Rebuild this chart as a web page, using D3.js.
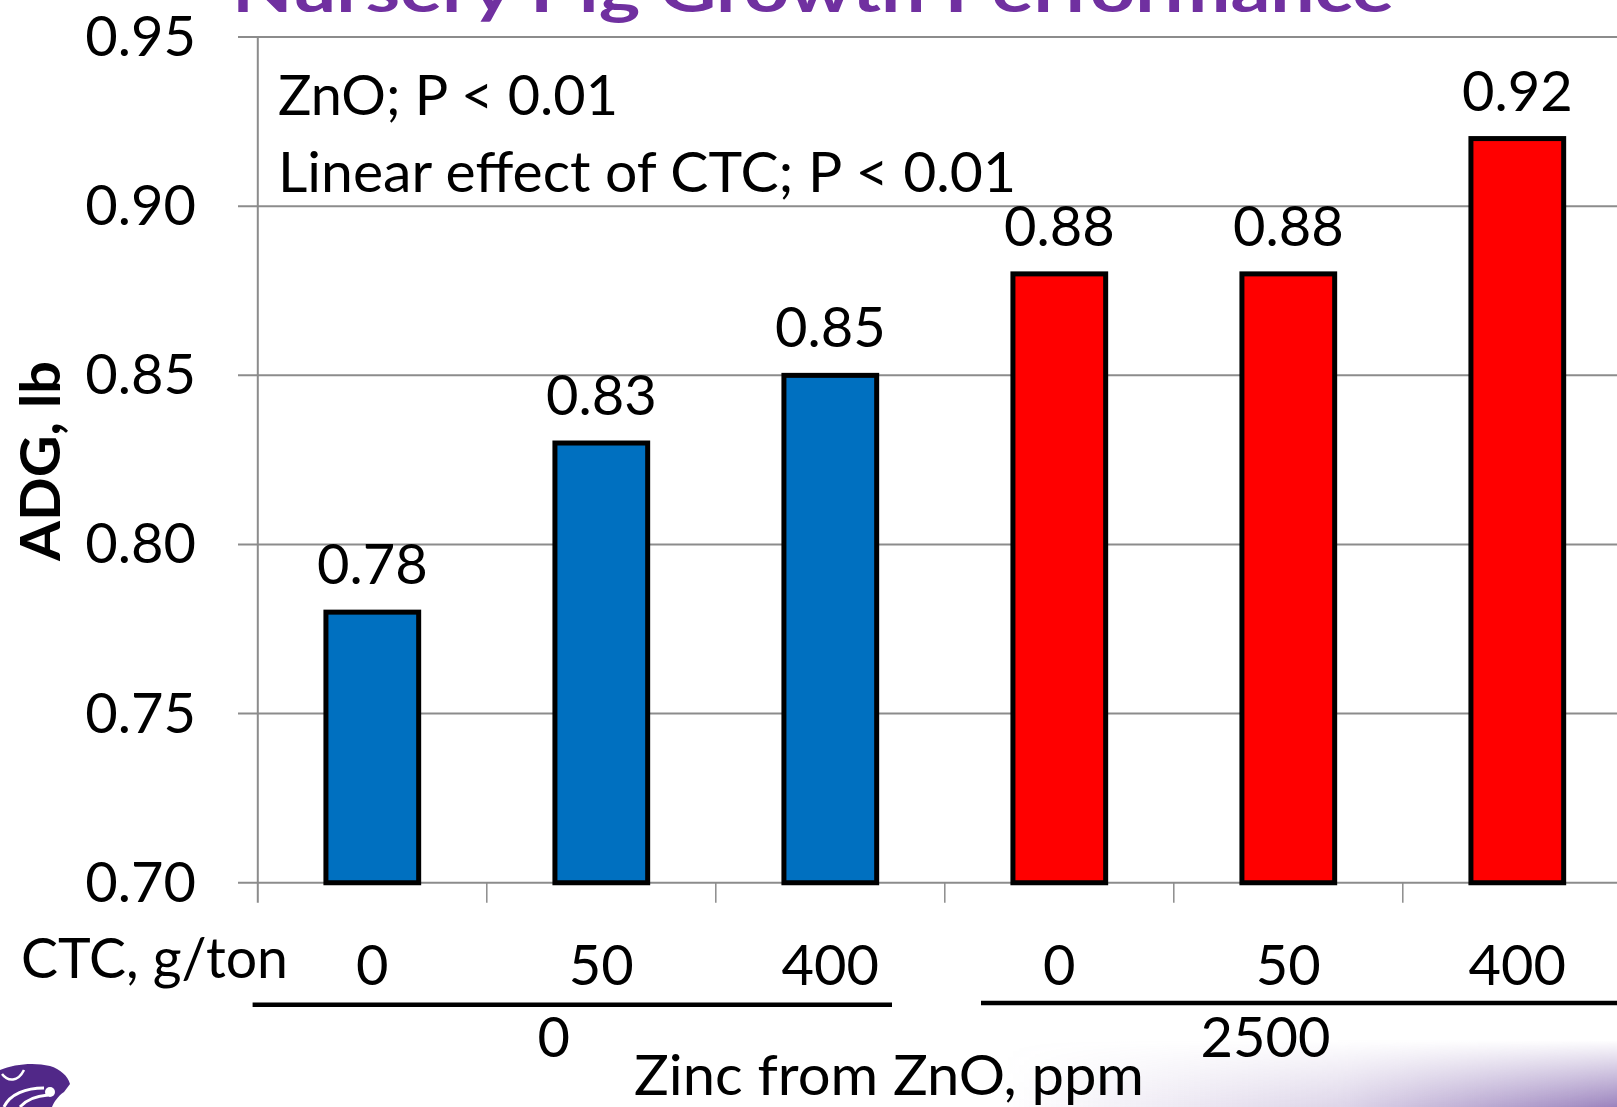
<!DOCTYPE html>
<html>
<head>
<meta charset="utf-8">
<script src="https://cdn.jsdelivr.net/npm/d3@7"></script>
<style>
  html, body { margin: 0; padding: 0; background: #fff; }
  svg { display: block; font-family: Lato, "Open Sans", sans-serif; }
</style>
</head>
<body>
<svg id="chart" width="1617" height="1107"></svg>
<script>
// Average daily gain of nursery pigs by CTC level within each ZnO level
const ctcLevels = ["0", "50", "400", "0", "50", "400"];
const zincOfBar = ["0", "0", "0", "2500", "2500", "2500"];
const adg = [0.78, 0.83, 0.85, 0.88, 0.88, 0.92];
const zincGroups = ["0", "2500"];
const yTicks = [0.70, 0.75, 0.80, 0.85, 0.90, 0.95];
const notes = ["ZnO; P < 0.01", "Linear effect of CTC; P < 0.01"];

const W = 1617, H = 1107;
const svg = d3.select("#chart");
const defs = svg.append("defs");

// --- slide decoration: bottom-right purple wash ---
const gH = defs.append("linearGradient").attr("id", "washH").attr("x1", 0).attr("x2", 1).attr("y1", 0).attr("y2", 0);
gH.append("stop").attr("offset", "0").attr("stop-color", "#7a5aa8").attr("stop-opacity", 0);
gH.append("stop").attr("offset", "0.55").attr("stop-color", "#7a5aa8").attr("stop-opacity", 0.25);
gH.append("stop").attr("offset", "1").attr("stop-color", "#7a5aa8").attr("stop-opacity", 0.75);
const gV = defs.append("linearGradient").attr("id", "washV").attr("x1", 0).attr("x2", 0).attr("y1", 0).attr("y2", 1);
gV.append("stop").attr("offset", "0").attr("stop-color", "#fff").attr("stop-opacity", 0);
gV.append("stop").attr("offset", "1").attr("stop-color", "#fff").attr("stop-opacity", 1);
defs.append("mask").attr("id", "washMask")
  .append("rect").attr("x", 1000).attr("y", 1040).attr("width", 617).attr("height", 67).attr("fill", "url(#washV)");
svg.append("rect").attr("x", 1000).attr("y", 1040).attr("width", 617).attr("height", 67)
  .attr("fill", "url(#washH)").attr("mask", "url(#washMask)");

// --- wildcat emblem, bottom-left ---
const logo = svg.append("g").attr("transform", "translate(0,1062)");
logo.append("path")
  .attr("d", "M0,8 C14,2 34,0 50,4 C60,7 68,14 70,22 L64,30 C58,34 54,40 52,45 L0,45 Z")
  .attr("fill", "#512888");
logo.append("path").attr("d", "M2,12 C8,20 18,20 24,8").attr("fill", "none").attr("stroke", "#fff").attr("stroke-width", 2.5);
logo.append("path").attr("d", "M4,45 C10,32 26,26 44,26").attr("fill", "none").attr("stroke", "#fff").attr("stroke-width", 3);
logo.append("path").attr("d", "M20,45 C26,38 36,34 48,33").attr("fill", "none").attr("stroke", "#fff").attr("stroke-width", 3);
logo.append("circle").attr("cx", 50).attr("cy", 30).attr("r", 5).attr("fill", "#fff");

// --- title (partly above the visible area) ---
svg.append("text")
  .attr("x", 232).attr("y", 12)
  .attr("fill", "#7030A0").attr("font-weight", "bold").attr("font-size", 62)
  .attr("textLength", 1162).attr("lengthAdjust", "spacingAndGlyphs")
  .text("Nursery Pig Growth Performance");

// --- scales ---
const plotLeft = 257.8, step = 229;
const x = d3.scaleBand()
  .domain(d3.range(adg.length))
  .range([plotLeft, plotLeft + step * adg.length])
  .paddingInner(0.595).paddingOuter(0.2975);
const y = d3.scaleLinear().domain([0.70, 0.95]).range([882.75, 37.1]);
const color = d3.scaleOrdinal().domain(zincGroups).range(["#0070C0", "#FF0000"]);

const gridColor = "#8c8c8c";

// horizontal gridlines (with the short left tick stubs)
svg.append("g").selectAll("line").data(yTicks).join("line")
  .attr("x1", 238).attr("x2", W)
  .attr("y1", d => y(d)).attr("y2", d => y(d))
  .attr("stroke", gridColor).attr("stroke-width", 2);

// y-axis line
svg.append("line")
  .attr("x1", plotLeft).attr("x2", plotLeft)
  .attr("y1", y(0.95)).attr("y2", y(0.70) + 20)
  .attr("stroke", gridColor).attr("stroke-width", 2);

// category boundary ticks on the x axis
const boundaries = d3.range(1, adg.length + 1).map(i => plotLeft + step * i);
svg.append("g").selectAll("line").data(boundaries).join("line")
  .attr("x1", d => d).attr("x2", d => d)
  .attr("y1", y(0.70)).attr("y2", y(0.70) + 20)
  .attr("stroke", gridColor).attr("stroke-width", 1.5);

// y tick labels
svg.append("g").selectAll("text").data(yTicks).join("text")
  .attr("x", 196).attr("y", d => y(d) + 19)
  .attr("text-anchor", "end").attr("font-size", 56).attr("fill", "#000")
  .text(d => d3.format(".2f")(d));

// y-axis title
svg.append("text")
  .attr("transform", `translate(60,${461}) rotate(-90)`)
  .attr("text-anchor", "middle").attr("font-size", 56).attr("font-weight", "bold")
  .attr("textLength", 200).attr("lengthAdjust", "spacingAndGlyphs")
  .text("ADG, lb");

// bars
svg.append("g").selectAll("rect").data(adg).join("rect")
  .attr("x", (d, i) => x(i))
  .attr("width", x.bandwidth())
  .attr("y", d => y(d))
  .attr("height", d => y(0.70) - y(d))
  .attr("fill", (d, i) => color(zincOfBar[i]))
  .attr("stroke", "#000").attr("stroke-width", 5);

// value labels
svg.append("g").selectAll("text").data(adg).join("text")
  .attr("x", (d, i) => x(i) + x.bandwidth() / 2)
  .attr("y", d => y(d) - 28)
  .attr("text-anchor", "middle").attr("font-size", 56)
  .text(d => d3.format(".2f")(d));

// statistics notes
const noteWidths = [340, 738];
svg.append("g").selectAll("text").data(notes).join("text")
  .attr("x", 278).attr("y", (d, i) => 115 + i * 77)
  .attr("font-size", 56)
  .attr("textLength", (d, i) => noteWidths[i]).attr("lengthAdjust", "spacingAndGlyphs")
  .text(d => d);

// CTC row
svg.append("text").attr("x", 21).attr("y", 978).attr("font-size", 56)
  .attr("textLength", 267).attr("lengthAdjust", "spacingAndGlyphs")
  .text("CTC, g/ton");
svg.append("g").selectAll("text").data(ctcLevels).join("text")
  .attr("x", (d, i) => x(i) + x.bandwidth() / 2)
  .attr("y", 985)
  .attr("text-anchor", "middle").attr("font-size", 56)
  .text(d => d);

// ZnO groups: underline spans and labels
const groupSpans = [[252.6, 892, 1004.7, 553.7], [981, W, 1003, 1265.5]];
zincGroups.forEach((g, k) => {
  const [x1, x2, ly, cx] = groupSpans[k];
  svg.append("line").attr("x1", x1).attr("x2", x2).attr("y1", ly).attr("y2", ly)
    .attr("stroke", "#000").attr("stroke-width", 4.5);
  svg.append("text").attr("x", cx).attr("y", 1057)
    .attr("text-anchor", "middle").attr("font-size", 56).text(g);
});

svg.append("text").attr("x", 889).attr("y", 1095)
  .attr("text-anchor", "middle").attr("font-size", 56)
  .attr("textLength", 510).attr("lengthAdjust", "spacingAndGlyphs")
  .text("Zinc from ZnO, ppm");
</script>
</body>
</html>
